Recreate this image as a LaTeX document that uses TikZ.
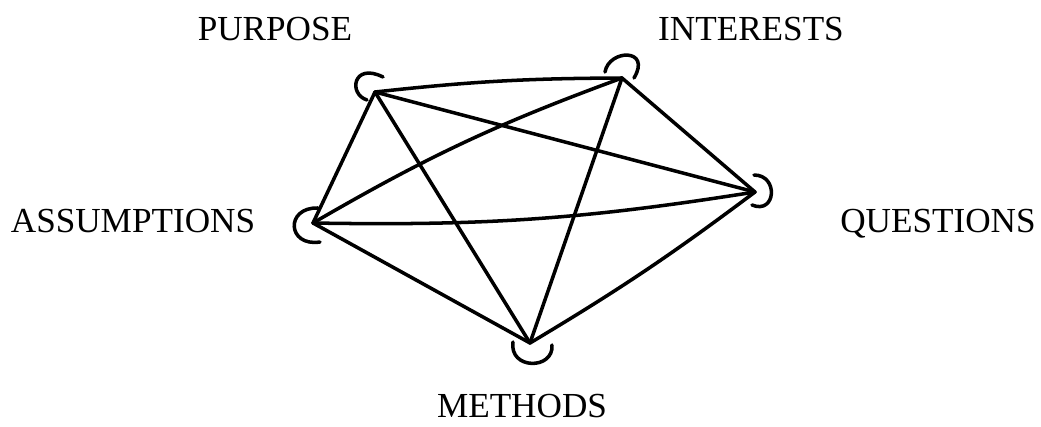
\documentclass[tikz,border=0pt]{standalone}
\usepackage{fontspec}
\setmainfont{Liberation Serif}
\tikzset{
	label/.style={anchor=base, font=\fontsize{10}{12}\selectfont},
	link/.style={line width=1pt, line cap=round, line join=round},
}
\begin{document}
\begin{tikzpicture}[x=0.01cm, y=-0.01cm]
	\useasboundingbox (0,0) rectangle (1041,427);
	% corners of the pentagon
	\coordinate (purpose) at (375,92);
	\coordinate (interests) at (622,78);
	\coordinate (questions) at (755,192);
	\coordinate (assumptions) at (313,223);
	\coordinate (methods) at (530,343);
	% labels
	\node[label] (purposeLabel) at (275,40) {PURPOSE};
	\node[label] (interestsLabel) at (751,40) {INTERESTS};
	\node[label] (assumptionsLabel) at (133,232) {ASSUMPTIONS};
	\node[label] (questionsLabel) at (938,232) {QUESTIONS};
	\node[label] (methodsLabel) at (522,417) {METHODS};
	% every pair joined
	\draw[link] (purpose) to[bend left=3] (interests);
	\draw[link] (purpose) -- (questions);
	\draw[link] (purpose) -- (assumptions);
	\draw[link] (purpose) -- (methods);
	\draw[link] (interests) -- (questions);
	\draw[link] (assumptions) to[bend left=5] (interests);
	\draw[link] (interests) -- (methods);
	\draw[link] (assumptions) to[bend right=5] (questions);
	\draw[link] (methods) to[bend right=3] (questions);
	\draw[link] (assumptions) -- (methods);
	% little hooks at the corners
	\draw[link, shift={(purpose)}] (-8,8) .. controls (-27,2) and (-22,-30) .. (8,-15);
	\draw[link, shift={(interests)}] (-17,-6) .. controls (-13,-29) and (30,-30) .. (12,0);
	\draw[link, shift={(questions)}] (-1,-17) .. controls (24,-17) and (21,23) .. (-3,13);
	\draw[link, shift={(assumptions)}] (5,-15) .. controls (-28,-16) and (-26,24) .. (7,19);
	\draw[link, shift={(methods)}] (-17,-1) .. controls (-21,27) and (24,27) .. (22,2);
\end{tikzpicture}
\end{document}
